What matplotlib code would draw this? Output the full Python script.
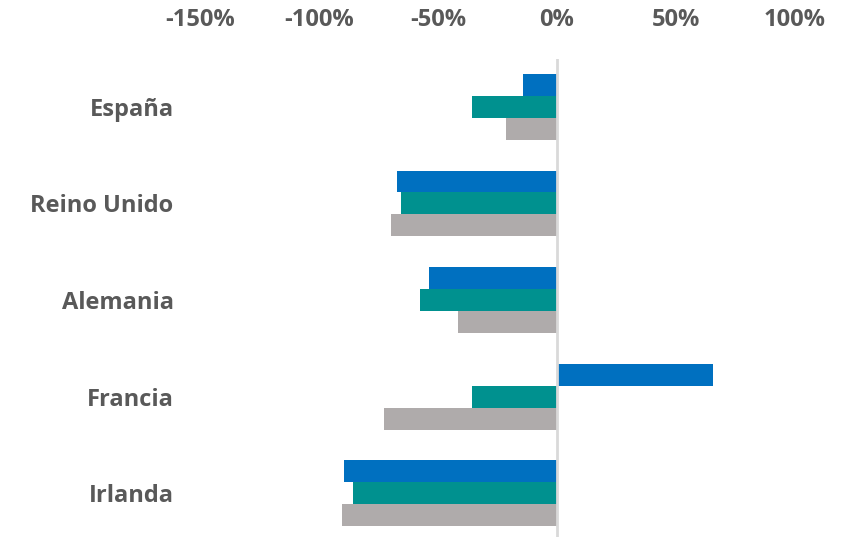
import matplotlib.pyplot as plt
import numpy as np

# Data (percent change)
countries = ['España', 'Reino Unido', 'Alemania', 'Francia', 'Irlanda']
serie_a = [-14.4, -67.1, -53.8, 65.4, -89.4]    # blue
serie_b = [-35.6, -65.7, -57.6, -35.6, -85.6]   # teal
serie_c = [-21.6, -69.7, -41.5, -72.6, -90.5]   # gray
ticks = [-150, -100, -50, 0, 50, 100]

colors = ['#0070C0', '#00918F', '#AFABAB']
text_color = '#595959'

plt.rcParams['font.family'] = ['Open Sans', 'DejaVu Sans']

fig = plt.figure(figsize=(8.56, 5.37), dpi=100)
ax = fig.add_axes([0.2336, -0.0084, 0.695, 0.8994])

y = np.arange(len(countries))
h = 0.227
for i, (vals, c) in enumerate(zip([serie_a, serie_b, serie_c], colors)):
    ax.barh(y + (i - 1) * h, vals, height=h, color=c, zorder=2)

ax.set_xlim(-150, 100)
ax.set_ylim(len(countries) - 0.5, -0.5)
ax.axvline(0, color='#D9D9D9', lw=2, zorder=3)

ax.set_xticks(ticks)
ax.set_xticklabels([f'{t}%' for t in ticks])
ax.set_yticks(y)
ax.set_yticklabels(countries)
ax.xaxis.tick_top()
ax.tick_params(axis='x', length=0, pad=19, labelsize=17, labelcolor=text_color)
ax.tick_params(axis='y', length=0, pad=19, labelsize=17, labelcolor=text_color)
for lbl in ax.get_xticklabels() + ax.get_yticklabels():
    lbl.set_fontweight('bold')

for s in ax.spines.values():
    s.set_visible(False)

fig.savefig('out.png', dpi=100)
